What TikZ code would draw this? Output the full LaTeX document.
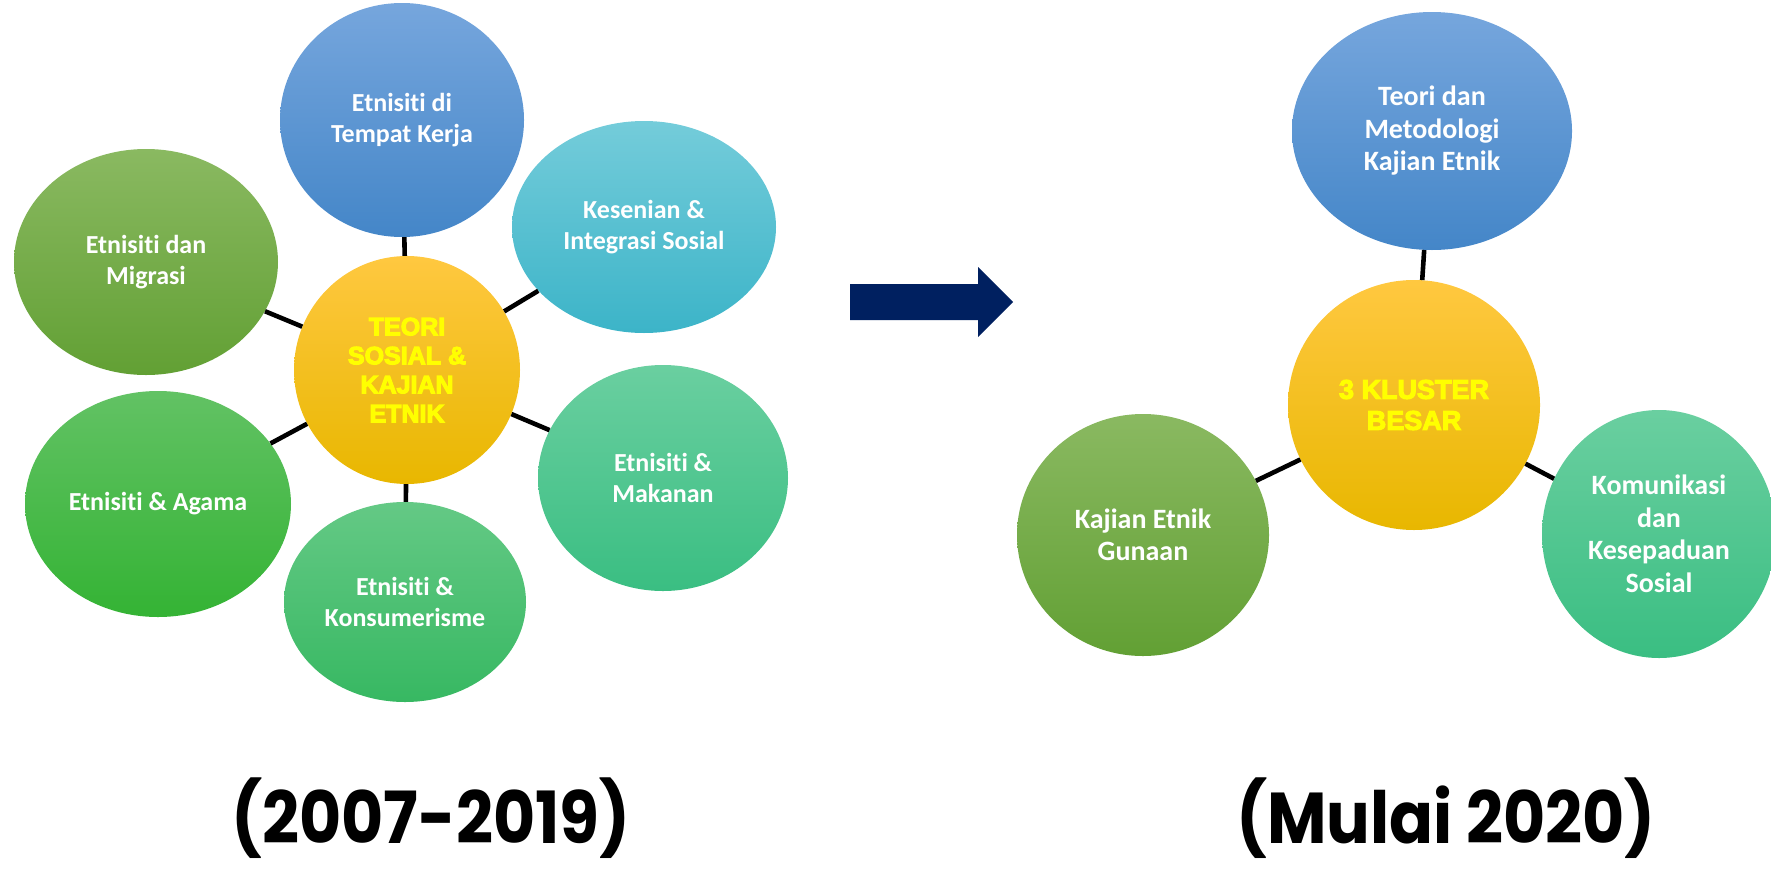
\documentclass[tikz,border=0pt]{standalone}
\usepackage{fontspec}
\setmainfont{Carlito}[Ligatures={NoCommon,NoRequired,NoContextual}]
\newfontfamily\hdfont{Liberation Sans}
\newfontfamily\popfont{Poppins}[FakeStretch=0.9]
\usetikzlibrary{shapes.geometric}
\definecolor{bluetop}{RGB}{118,166,221}
\definecolor{bluebot}{RGB}{68,134,200}
\definecolor{cyantop}{RGB}{116,204,218}
\definecolor{cyanbot}{RGB}{60,180,200}
\definecolor{olivetop}{RGB}{138,185,97}
\definecolor{olivebot}{RGB}{98,160,52}
\definecolor{greentop}{RGB}{98,194,100}
\definecolor{greenbot}{RGB}{52,179,52}
\definecolor{tealtop}{RGB}{106,207,160}
\definecolor{tealbot}{RGB}{58,190,130}
\definecolor{mintop}{RGB}{100,201,133}
\definecolor{minbot}{RGB}{55,184,98}
\definecolor{gold}{RGB}{255,200,64}
\definecolor{goldbot}{RGB}{232,183,0}
\definecolor{navy}{RGB}{0,32,96}
\definecolor{hiyellow}{RGB}{255,255,0}
\newcommand\heavytext[1]{\special{pdf:literal direct 2 Tr 1.1 w}#1\special{pdf:literal direct 0 Tr}}
\tikzset{
  bub/.style={ellipse, inner sep=0pt, align=center, text=white,
    font=\fontsize{26}{31}\selectfont\bfseries},
  bubr/.style={bub, font=\fontsize{28}{32.5}\selectfont\bfseries},
  hub/.style={ellipse, inner sep=0pt, align=center, text=hiyellow,
    top color=gold, bottom color=goldbot},
  link/.style={line width=4.6pt, black},
  era/.style={anchor=base, font=\popfont\fontsize{72}{78}\selectfont\bfseries}
}
\begin{document}
\begin{tikzpicture}[x=1pt,y=-1pt]
\useasboundingbox (0,0) rectangle (1771,870);
% left cluster
\node[hub, minimum width=226pt, minimum height=228pt,
  font=\hdfont\fontsize{25}{29}\selectfont\bfseries] (C) at (407,370)
  {\heavytext{TEORI\\SOSIAL \&\\KAJIAN\\ETNIK}};
\node[bub, minimum width=244pt, minimum height=234pt, top color=bluetop, bottom color=bluebot] (TK) at (402,120) {Etnisiti di\\Tempat Kerja};
\node[bub, minimum width=264pt, minimum height=212pt, top color=cyantop, bottom color=cyanbot] (KS) at (644,227) {Kesenian \&\\Integrasi Sosial};
\node[bub, minimum width=264pt, minimum height=226pt, top color=olivetop, bottom color=olivebot] (MG) at (146,262) {Etnisiti dan\\Migrasi};
\node[bub, minimum width=266pt, minimum height=226pt, top color=greentop, bottom color=greenbot] (AG) at (158,504) {Etnisiti \& Agama};
\node[bub, minimum width=250pt, minimum height=226pt, top color=tealtop, bottom color=tealbot] (MK) at (663,478) {Etnisiti \&\\Makanan};
\node[bub, minimum width=242pt, minimum height=200pt, top color=mintop, bottom color=minbot] (KN) at (405,602) {Etnisiti \&\\Konsumerisme};
% right cluster
\node[hub, minimum width=252pt, minimum height=250pt,
  font=\hdfont\fontsize{27}{31}\selectfont\bfseries] (KL) at (1414,405)
  {\heavytext{3 KLUSTER\\BESAR}};
\node[bubr, minimum width=280pt, minimum height=238pt, top color=bluetop, bottom color=bluebot] (TM) at (1432,131) {Teori dan\\Metodologi\\Kajian Etnik};
\node[bubr, minimum width=252pt, minimum height=242pt, top color=olivetop, bottom color=olivebot] (KG) at (1143,535) {Kajian Etnik\\Gunaan};
\node[bubr, minimum width=234pt, minimum height=248pt, top color=tealtop, bottom color=tealbot] (KP) at (1659,534) {Komunikasi\\dan\\Kesepaduan\\Sosial};
% connectors (between borders)
\draw[link] (C) -- (TK);
\draw[link] (C) -- (KS);
\draw[link] (C) -- (MG);
\draw[link] (C) -- (AG);
\draw[link] (C) -- (MK);
\draw[link] (C) -- (KN);
\draw[link] (KL) -- (TM);
\draw[link] (KL) -- (KG);
\draw[link] (KL) -- (KP);
% arrow
\coordinate (A1) at (850,284);
\fill[navy] (A1) -- (978,284) -- (978,267) -- (1013,302) -- (978,337) -- (978,320) -- (850,320) -- cycle;
% era labels
\node[era] (E1) at (431,843) {(2007-2019)};
\node[era] (E2) at (1446,843) {(Mulai 2020)};
\end{tikzpicture}
\end{document}
